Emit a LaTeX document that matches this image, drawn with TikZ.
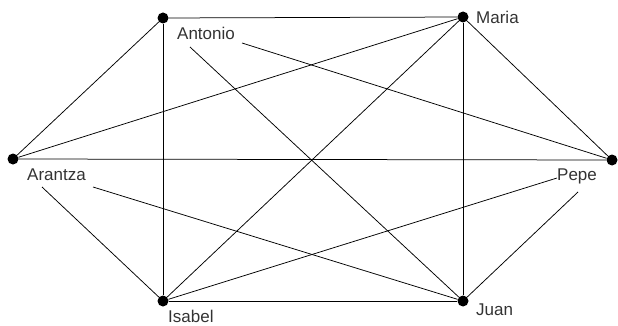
\documentclass[tikz,border=0pt]{standalone}
\usepackage{fontspec}
\setmainfont{Liberation Sans}
\begin{document}
\begin{tikzpicture}[x=1pt,y=-1pt,
  dot/.style={circle,fill=black,inner sep=0pt,minimum size=11pt},
  lbl/.style={inner sep=0pt,anchor=base west,font=\fontsize{17}{20}\selectfont,text=black!80},
  edge/.style={draw=black,line width=0.75pt}]
\useasboundingbox (0,0) rectangle (618,326);
% dots
\node[dot] (A) at (163,18) {};
\node[dot] (M) at (463,17) {};
\node[dot] (R) at (13,159) {};
\node[dot] (P) at (612,160) {};
\node[dot] (I) at (163,301) {};
\node[dot] (J) at (463,301) {};
% labels
\node[lbl] (lA) at (177,40) {Antonio};
\node[lbl] (lM) at (476,24) {Maria};
\node[lbl] (lR) at (27,180) {Arantza};
\node[lbl] (lP) at (557,180) {Pepe};
\node[lbl] (lI) at (168,322) {Isabel};
\node[lbl] (lJ) at (476,315) {Juan};
% label line ends
\coordinate (lAJ) at (190,47);
\coordinate (lAP) at (242,43);
\coordinate (lRI) at (42,187);
\coordinate (lRJ) at (93,187);
\coordinate (lPI) at (557,178);
\coordinate (lPJ) at (578,192);
% edges
\draw[edge] (A) -- (M);
\draw[edge] (A) -- (R);
\draw[edge] (A) -- (I);
\draw[edge] (lAJ) -- (J);
\draw[edge] (lAP) -- (P);
\draw[edge] (M) -- (R);
\draw[edge] (M) -- (I);
\draw[edge] (M) -- (J);
\draw[edge] (M) -- (P);
\draw[edge] (R) -- (P);
\draw[edge] (lRI) -- (I);
\draw[edge] (lRJ) -- (J);
\draw[edge] (lPI) -- (I);
\draw[edge] (lPJ) -- (J);
\draw[edge] (I) -- (J);
\end{tikzpicture}
\end{document}
